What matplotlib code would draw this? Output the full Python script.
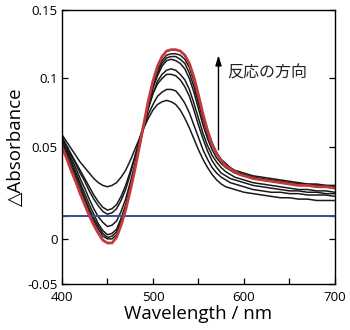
import numpy as np
import matplotlib
matplotlib.use("Agg")
from matplotlib import pyplot as plt

# wavelength grid (nm): 5 nm steps up to 595, then 10 nm steps
wavelength = list(range(400, 600, 5)) + list(range(600, 701, 10))

# black spectra, earliest (c1) to latest (c7)
c1 = [0.059, 0.054, 0.049, 0.044, 0.039, 0.035, 0.031, 0.027, 0.024, 0.022,
      0.021, 0.022, 0.024, 0.028, 0.033, 0.040, 0.048, 0.056, 0.064, 0.071,
      0.077, 0.081, 0.083, 0.084, 0.083, 0.081, 0.077, 0.071, 0.064, 0.056,
      0.048, 0.041, 0.035, 0.030, 0.026, 0.023, 0.021, 0.020, 0.019, 0.018,
      0.017, 0.016, 0.015, 0.014, 0.013, 0.013, 0.012, 0.012, 0.011, 0.011, 0.011]
c2 = [0.057, 0.051, 0.045, 0.039, 0.033, 0.027, 0.021, 0.015, 0.010, 0.006,
      0.004, 0.005, 0.008, 0.014, 0.022, 0.032, 0.043, 0.054, 0.064, 0.074,
      0.081, 0.087, 0.090, 0.092, 0.092, 0.091, 0.087, 0.082, 0.075, 0.066,
      0.057, 0.048, 0.041, 0.035, 0.031, 0.028, 0.026, 0.024, 0.023, 0.022,
      0.021, 0.019, 0.018, 0.017, 0.017, 0.016, 0.016, 0.015, 0.015, 0.015, 0.014]
c3 = [0.057, 0.051, 0.044, 0.038, 0.031, 0.025, 0.018, 0.012, 0.007, 0.003,
      0.001, 0.002, 0.005, 0.011, 0.019, 0.030, 0.042, 0.055, 0.067, 0.079,
      0.089, 0.096, 0.100, 0.103, 0.103, 0.102, 0.099, 0.094, 0.087, 0.077,
      0.066, 0.056, 0.047, 0.040, 0.035, 0.031, 0.029, 0.027, 0.026, 0.025,
      0.024, 0.022, 0.021, 0.020, 0.019, 0.018, 0.018, 0.017, 0.017, 0.016, 0.016]
c4 = [0.057, 0.050, 0.042, 0.035, 0.027, 0.020, 0.012, 0.005, -0.001, -0.005,
      -0.008, -0.007, -0.004, 0.003, 0.012, 0.024, 0.037, 0.051, 0.065, 0.078,
      0.089, 0.098, 0.103, 0.106, 0.107, 0.106, 0.103, 0.099, 0.092, 0.082,
      0.071, 0.060, 0.051, 0.044, 0.039, 0.035, 0.032, 0.030, 0.028, 0.027,
      0.026, 0.024, 0.023, 0.022, 0.021, 0.020, 0.019, 0.019, 0.018, 0.018, 0.017]
c5 = [0.056, 0.048, 0.040, 0.032, 0.024, 0.016, 0.008, 0.001, -0.006, -0.011,
      -0.014, -0.013, -0.010, -0.002, 0.008, 0.021, 0.036, 0.051, 0.066, 0.080,
      0.093, 0.102, 0.109, 0.113, 0.114, 0.113, 0.111, 0.107, 0.100, 0.090,
      0.078, 0.066, 0.056, 0.048, 0.042, 0.038, 0.035, 0.033, 0.031, 0.030,
      0.029, 0.027, 0.026, 0.025, 0.024, 0.023, 0.023, 0.022, 0.022, 0.021, 0.021]
c6 = [0.055, 0.047, 0.039, 0.030, 0.022, 0.013, 0.005, -0.002, -0.008, -0.013,
      -0.016, -0.015, -0.012, -0.004, 0.006, 0.020, 0.035, 0.050, 0.066, 0.081,
      0.094, 0.104, 0.111, 0.115, 0.116, 0.116, 0.114, 0.111, 0.104, 0.094,
      0.082, 0.070, 0.059, 0.051, 0.045, 0.040, 0.036, 0.034, 0.032, 0.031,
      0.030, 0.028, 0.027, 0.026, 0.025, 0.024, 0.023, 0.023, 0.022, 0.022, 0.021]
c7 = [0.053, 0.045, 0.036, 0.028, 0.019, 0.011, 0.003, -0.004, -0.010, -0.015,
      -0.017, -0.017, -0.014, -0.006, 0.005, 0.019, 0.034, 0.050, 0.066, 0.082,
      0.095, 0.106, 0.113, 0.117, 0.118, 0.118, 0.117, 0.114, 0.108, 0.098,
      0.086, 0.073, 0.062, 0.053, 0.046, 0.041, 0.038, 0.035, 0.033, 0.032,
      0.031, 0.029, 0.028, 0.027, 0.026, 0.025, 0.024, 0.023, 0.023, 0.022, 0.022]
# final spectrum (red)
final = [0.050, 0.042, 0.033, 0.025, 0.016, 0.008, 0.000, -0.007, -0.013, -0.018,
         -0.020, -0.020, -0.016, -0.007, 0.004, 0.018, 0.033, 0.050, 0.067, 0.084,
         0.098, 0.109, 0.116, 0.120, 0.121, 0.121, 0.120, 0.117, 0.111, 0.101,
         0.088, 0.074, 0.062, 0.052, 0.045, 0.040, 0.036, 0.034, 0.032, 0.030,
         0.029, 0.027, 0.026, 0.025, 0.024, 0.023, 0.022, 0.022, 0.021, 0.021, 0.020]
black_curves = [c1, c2, c3, c4, c5, c6, c7]

baseline = 0.0

# y ticks as they appear on the original (the "0" label sits below the baseline)
ytick_pos = [-0.05, -0.0172, 0.0, 0.05, 0.1, 0.15]
ytick_lab = ["-0.05", "0", "", "0.05", "0.1", "0.15"]
xtick_major = [400, 500, 600, 700]
xtick_minor = [450, 550, 650]

latin = ["Open Sans", "DejaVu Sans"]
jp = ["Noto Sans CJK JP", "DejaVu Sans"]

fig = plt.figure(figsize=(3.5, 3.3), dpi=100)
ax = fig.add_axes([0.177, 0.139, 0.78, 0.831])

for c in black_curves:
    ax.plot(wavelength, c, color="#1a1a1a", lw=1.1)
ax.axhline(baseline, color="#3b4d8f", lw=1.4)
ax.plot(wavelength, final, color="#c4393c", lw=2.0)

ax.set_xlim(400, 700)
ax.set_ylim(-0.05, 0.15)

ax.set_xticks(xtick_major)
ax.set_xticks(xtick_minor, minor=True)
ax.set_yticks(ytick_pos)
ax.set_yticklabels(ytick_lab)
ax.tick_params(axis="both", which="both", direction="in", length=4, width=0.9)
ax.tick_params(axis="y", right=True, pad=3)
ax.tick_params(axis="x", pad=5)
for lab in ax.get_xticklabels() + ax.get_yticklabels():
    lab.set_family(latin)
    lab.set_fontsize(9.5)
for s in ax.spines.values():
    s.set_linewidth(1.0)

ax.set_xlabel("Wavelength / nm", family=latin, fontsize=13.5, labelpad=1)
ax.set_ylabel("△Absorbance", family=latin, fontsize=13.5, labelpad=2)

# reaction direction arrow
ax.annotate("", xy=(572, 0.119), xytext=(572, 0.046),
            arrowprops=dict(arrowstyle="-|>,head_length=0.6,head_width=0.18", lw=1.0, color="k"))
ax.text(582, 0.104, "反応の方向", family=jp, fontsize=11.5, ha="left", va="center", color="#222222")

fig.savefig("out.png", dpi=100)
